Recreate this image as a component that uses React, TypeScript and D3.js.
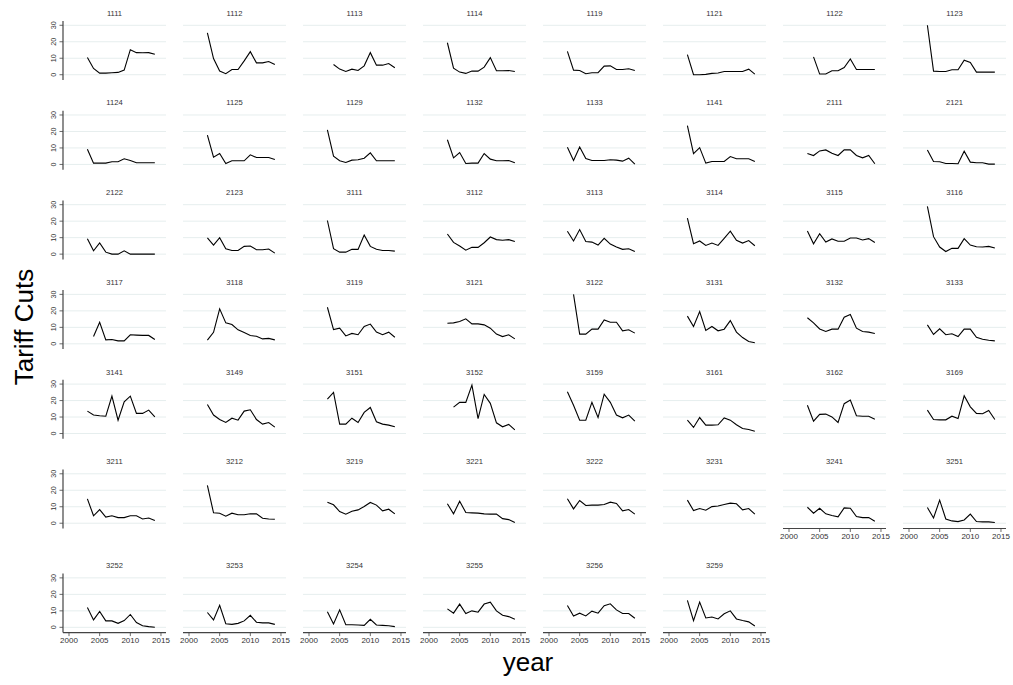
import React from 'react'
import * as d3 from 'd3'

// years on the x axis, axis ticks
const years = [2003, 2004, 2005, 2006, 2007, 2008, 2009, 2010, 2011, 2012, 2013, 2014]
const xTicks = [2000, 2005, 2010, 2015]
const yTicks = [0, 10, 20, 30]

// panel titles, row by row
const codesRow1 = ['1111', '1112', '1113', '1114', '1119', '1121', '1122', '1123']
const codesRow2 = ['1124', '1125', '1129', '1132', '1133', '1141', '2111', '2121']
const codesRow3 = ['2122', '2123', '3111', '3112', '3113', '3114', '3115', '3116']
const codesRow4 = ['3117', '3118', '3119', '3121', '3122', '3131', '3132', '3133']
const codesRow5 = ['3141', '3149', '3151', '3152', '3159', '3161', '3162', '3169']
const codesRow6 = ['3211', '3212', '3219', '3221', '3222', '3231', '3241', '3251']
const codesRow7 = ['3252', '3253', '3254', '3255', '3256', '3259']

// tariff cuts 2003-2014 (null = no observation)
const valuesRow1 = [
  [10.4, 3.8, 1.0, 1.0, 1.2, 1.4, 2.8, 15.2, 13.4, 13.3, 13.4, 12.4],
  [25.4, 9.8, 2.2, 0.6, 3.2, 3.2, 8.4, 14.0, 7.2, 7.2, 8.0, 6.2],
  [null, 6.2, 3.4, 2.0, 3.4, 2.6, 5.4, 13.4, 5.8, 5.8, 6.8, 4.2],
  [19.4, 4.0, 1.6, 0.8, 2.2, 2.2, 4.6, 10.4, 2.4, 2.4, 2.6, 2.0],
  [14.2, 2.8, 2.6, 0.6, 1.2, 1.2, 5.2, 5.4, 3.2, 3.2, 3.6, 2.6],
  [12.2, 0, 0, 0.2, 0.8, 1.0, 2.0, 2.0, 2.0, 2.0, 3.4, 0.4],
  [null, 10.8, 0.4, 0.4, 2.4, 2.4, 4.4, 9.6, 3.2, 3.2, 3.2, 3.2],
  [30.0, 2.2, 2.0, 2.0, 3.0, 3.0, 8.8, 7.4, 1.6, 1.6, 1.6, 1.6],
]
const valuesRow2 = [
  [9.2, 0.8, 0.8, 0.8, 1.6, 1.6, 3.4, 2.4, 1.0, 1.0, 1.0, 1.0],
  [17.8, 4.4, 6.6, 0.6, 2.2, 2.2, 2.2, 5.8, 4.2, 4.2, 4.2, 3.0],
  [21.0, 5.0, 2.2, 1.2, 2.6, 2.8, 3.8, 7.0, 2.2, 2.2, 2.2, 2.2],
  [15.0, 4.0, 7.2, 0.6, 0.8, 0.8, 6.6, 3.2, 2.2, 2.2, 2.4, 1.0],
  [10.4, 2.4, 10.6, 3.6, 2.4, 2.4, 2.4, 2.8, 2.6, 2.0, 3.8, 0.2],
  [23.6, 6.6, 10.2, 0.8, 1.8, 1.8, 1.8, 4.8, 3.4, 3.4, 3.4, 1.8],
  [6.6, 5.4, 8.2, 8.8, 6.8, 5.4, 8.8, 8.8, 5.4, 4.0, 5.4, 0.4],
  [8.8, 1.8, 1.6, 0.6, 0.6, 0.4, 8.0, 1.4, 1.0, 1.0, 0.2, 0.2],
]
const valuesRow3 = [
  [9.4, 2.0, 6.8, 1.2, 0, 0, 2.0, 0, 0, 0, 0, 0],
  [9.8, 5.5, 10.0, 3.3, 2.2, 2.2, 4.7, 4.9, 2.7, 2.7, 3.1, 0.6],
  [20.4, 3.3, 1.2, 1.2, 2.9, 2.9, 11.6, 4.7, 2.9, 2.2, 2.2, 1.8],
  [12.2, 7.1, 4.9, 2.4, 4.1, 4.1, 6.9, 10.4, 8.8, 8.4, 8.8, 7.6],
  [13.9, 8.0, 14.9, 7.6, 7.3, 5.5, 9.6, 6.1, 4.3, 2.9, 3.3, 1.6],
  [21.8, 6.3, 8.0, 5.3, 6.7, 5.3, 9.6, 13.9, 8.4, 6.7, 8.2, 5.1],
  [14.1, 6.3, 12.4, 7.3, 9.2, 7.8, 7.8, 9.8, 9.8, 8.6, 9.4, 7.1],
  [29.0, 10.6, 4.3, 1.6, 3.5, 3.5, 9.4, 5.5, 4.5, 4.3, 4.7, 3.7],
]
const valuesRow4 = [
  [null, 4.4, 13.1, 2.4, 2.6, 1.8, 1.8, 5.5, 5.3, 5.1, 5.1, 2.6],
  [2.2, 7.0, 21.2, 12.7, 11.7, 8.5, 6.8, 5.0, 4.6, 3.0, 3.3, 2.4],
  [22.2, 8.6, 9.5, 4.8, 6.3, 5.5, 10.5, 12.0, 7.1, 5.5, 7.1, 4.0],
  [12.5, 12.7, 13.5, 15.2, 12.1, 12.1, 11.5, 9.5, 5.9, 4.4, 5.5, 3.0],
  [null, 30.0, 5.9, 5.9, 8.9, 8.9, 14.5, 13.1, 13.1, 7.9, 8.5, 6.5],
  [16.8, 10.5, 19.6, 8.1, 10.5, 7.9, 8.9, 14.1, 7.1, 3.8, 1.4, 0.6],
  [15.8, 12.7, 9.0, 7.5, 8.9, 8.9, 16.2, 17.8, 9.5, 7.5, 7.1, 6.3],
  [11.5, 5.7, 9.1, 5.5, 6.1, 4.4, 8.9, 8.9, 4.0, 2.8, 2.2, 1.8],
]
const valuesRow5 = [
  [13.6, 11.2, 10.8, 10.5, 22.7, 8.1, 19.3, 22.7, 12.2, 12.2, 14.2, 10.1],
  [17.6, 11.2, 8.5, 6.7, 9.3, 8.1, 13.6, 14.4, 8.5, 5.7, 6.7, 3.9],
  [20.9, 24.9, 5.7, 5.7, 9.3, 6.7, 12.8, 15.8, 7.1, 5.7, 5.1, 4.1],
  [null, 16.0, 18.9, 18.9, 29.4, 9.1, 23.7, 18.3, 6.5, 4.1, 5.5, 2.2],
  [25.4, 17.2, 8.1, 8.1, 18.9, 9.7, 23.9, 18.9, 11.2, 9.5, 11.2, 7.5],
  [8.1, 3.7, 9.7, 5.1, 5.1, 5.3, 9.5, 8.1, 5.3, 3.0, 2.4, 1.4],
  [17.2, 7.5, 11.6, 11.8, 10.1, 6.7, 18.1, 20.3, 10.8, 10.5, 10.5, 8.7],
  [14.2, 8.5, 8.3, 8.3, 10.5, 9.1, 22.9, 16.2, 12.2, 12.0, 14.0, 8.5],
]
const valuesRow6 = [
  [14.8, 4.5, 8.3, 3.7, 4.5, 3.4, 3.4, 4.5, 4.5, 2.6, 3.2, 1.6],
  [22.9, 6.3, 6.1, 4.3, 6.1, 5.1, 5.1, 5.7, 5.7, 3.0, 2.6, 2.4],
  [12.8, 11.2, 7.1, 5.5, 7.3, 8.1, 10.1, 12.6, 11.0, 7.5, 8.5, 5.7],
  [11.8, 5.7, 13.4, 6.5, 6.3, 6.1, 5.7, 5.5, 5.5, 2.8, 2.2, 0.4],
  [14.8, 8.7, 13.8, 10.8, 11.0, 11.0, 11.4, 12.8, 12.0, 7.5, 8.3, 5.5],
  [14.0, 7.7, 8.9, 7.9, 10.1, 10.5, 11.4, 12.2, 11.8, 8.1, 8.9, 5.5],
  [9.7, 6.1, 9.1, 5.7, 4.7, 3.9, 9.3, 9.1, 4.1, 3.4, 3.4, 1.2],
  [9.5, 3.2, 14.0, 2.6, 1.4, 1.0, 2.0, 5.5, 1.0, 0.8, 0.8, 0.4],
]
const valuesRow7 = [
  [12.0, 4.5, 9.6, 3.9, 3.9, 2.4, 4.1, 7.8, 2.9, 1.0, 0.4, 0],
  [9.0, 4.5, 13.3, 2.2, 1.8, 2.4, 3.9, 7.3, 3.1, 2.7, 2.7, 1.8],
  [9.4, 2.0, 10.6, 1.6, 1.6, 1.4, 1.2, 4.9, 1.4, 1.2, 1.0, 0.4],
  [11.2, 8.6, 14.1, 8.4, 10.0, 9.2, 14.1, 15.3, 10.0, 7.3, 6.5, 4.9],
  [13.3, 6.9, 8.6, 6.9, 9.8, 8.6, 13.1, 14.3, 10.6, 8.4, 8.4, 5.5],
  [16.3, 4.1, 15.3, 5.7, 6.3, 5.1, 8.2, 10.0, 5.1, 4.1, 3.3, 0.8],
]

const rows = [
  [codesRow1, valuesRow1],
  [codesRow2, valuesRow2],
  [codesRow3, valuesRow3],
  [codesRow4, valuesRow4],
  [codesRow5, valuesRow5],
  [codesRow6, valuesRow6],
  [codesRow7, valuesRow7],
] as [string[], (number | null)[][]][]

const W = 1013
const H = 685
const FONT = '"Liberation Sans", Arial, Helvetica, sans-serif'
const PW = 103 // plot width
const PH = 59 // plot height
const colLeft = (c: number) => 63 + 120 * c
// last row sits lower, to make room for the x labels of row 6
const rowTop = (r: number) => (r < 6 ? 21 + 89.7 * r : 573.6)

const GRID = '#e6eeee'
const AXIS = '#444'

type PanelProps = {
  code: string
  values: (number | null)[]
  left: number
  top: number
  showX: boolean
  showY: boolean
}

const Panel = ({code, values, left, top, showX, showY}: PanelProps) => {
  const x = d3.scaleLinear().domain([1999.02, 2015.82]).range([left, left + PW])
  const y = d3.scaleLinear().domain([-3.2, 32.6]).range([top + PH, top])
  const line = d3
    .line<number | null>()
    .defined((d) => d != null)
    .x((_, i) => x(years[i]))
    .y((d) => y(d as number))
  const bottom = top + PH

  return (
    <g>
      <text
        x={left + PW / 2}
        y={top - 5.3}
        textAnchor="middle"
        fontSize={7.6}
        fill="#333"
      >
        {code}
      </text>
      {yTicks.map((t) => (
        <line
          key={t}
          x1={left}
          x2={left + PW}
          y1={y(t)}
          y2={y(t)}
          stroke={GRID}
          strokeWidth={1}
        />
      ))}
      <path d={line(values) || ''} fill="none" stroke="#000" strokeWidth={1.1} />
      {showY && (
        <g>
          <line x1={left} x2={left} y1={top} y2={bottom} stroke={AXIS} strokeWidth={1.2} />
          {yTicks.map((t) => (
            <g key={t}>
              <line x1={left - 3.5} x2={left} y1={y(t)} y2={y(t)} stroke={AXIS} strokeWidth={0.8} />
              <text
                transform={`translate(${left - 7},${y(t)}) rotate(-90)`}
                textAnchor="middle"
                fontSize={7.2}
                fill="#333"
              >
                {t}
              </text>
            </g>
          ))}
        </g>
      )}
      {showX && (
        <g>
          <line x1={left} x2={left + PW} y1={bottom} y2={bottom} stroke={AXIS} strokeWidth={1.2} />
          {xTicks.map((t) => (
            <g key={t}>
              <line x1={x(t)} x2={x(t)} y1={bottom} y2={bottom + 3.5} stroke={AXIS} strokeWidth={0.8} />
              <text x={x(t)} y={bottom + 10.8} textAnchor="middle" fontSize={8} fill="#333">
                {t}
              </text>
            </g>
          ))}
        </g>
      )}
    </g>
  )
}

const App = () => {
  return (
    <svg
      width={W}
      height={H}
      style={{position: 'absolute', left: 0, top: 0, background: '#fff'}}
      fontFamily={FONT}
    >
      {rows.map(([codes, values], r) =>
        codes.map((code, c) => {
          const below = rows[r + 1]
          const showX = !below || below[0].length <= c
          return (
            <Panel
              key={code}
              code={code}
              values={values[c]}
              left={colLeft(c)}
              top={rowTop(r)}
              showX={showX}
              showY={c === 0}
            />
          )
        })
      )}
      <text
        transform="translate(33,327) rotate(-90)"
        textAnchor="middle"
        fontSize={26}
        fill="#000"
      >
        Tariff Cuts
      </text>
      <text x={528} y={671} textAnchor="middle" fontSize={26} fill="#000">
        year
      </text>
    </svg>
  )
}

export default App
